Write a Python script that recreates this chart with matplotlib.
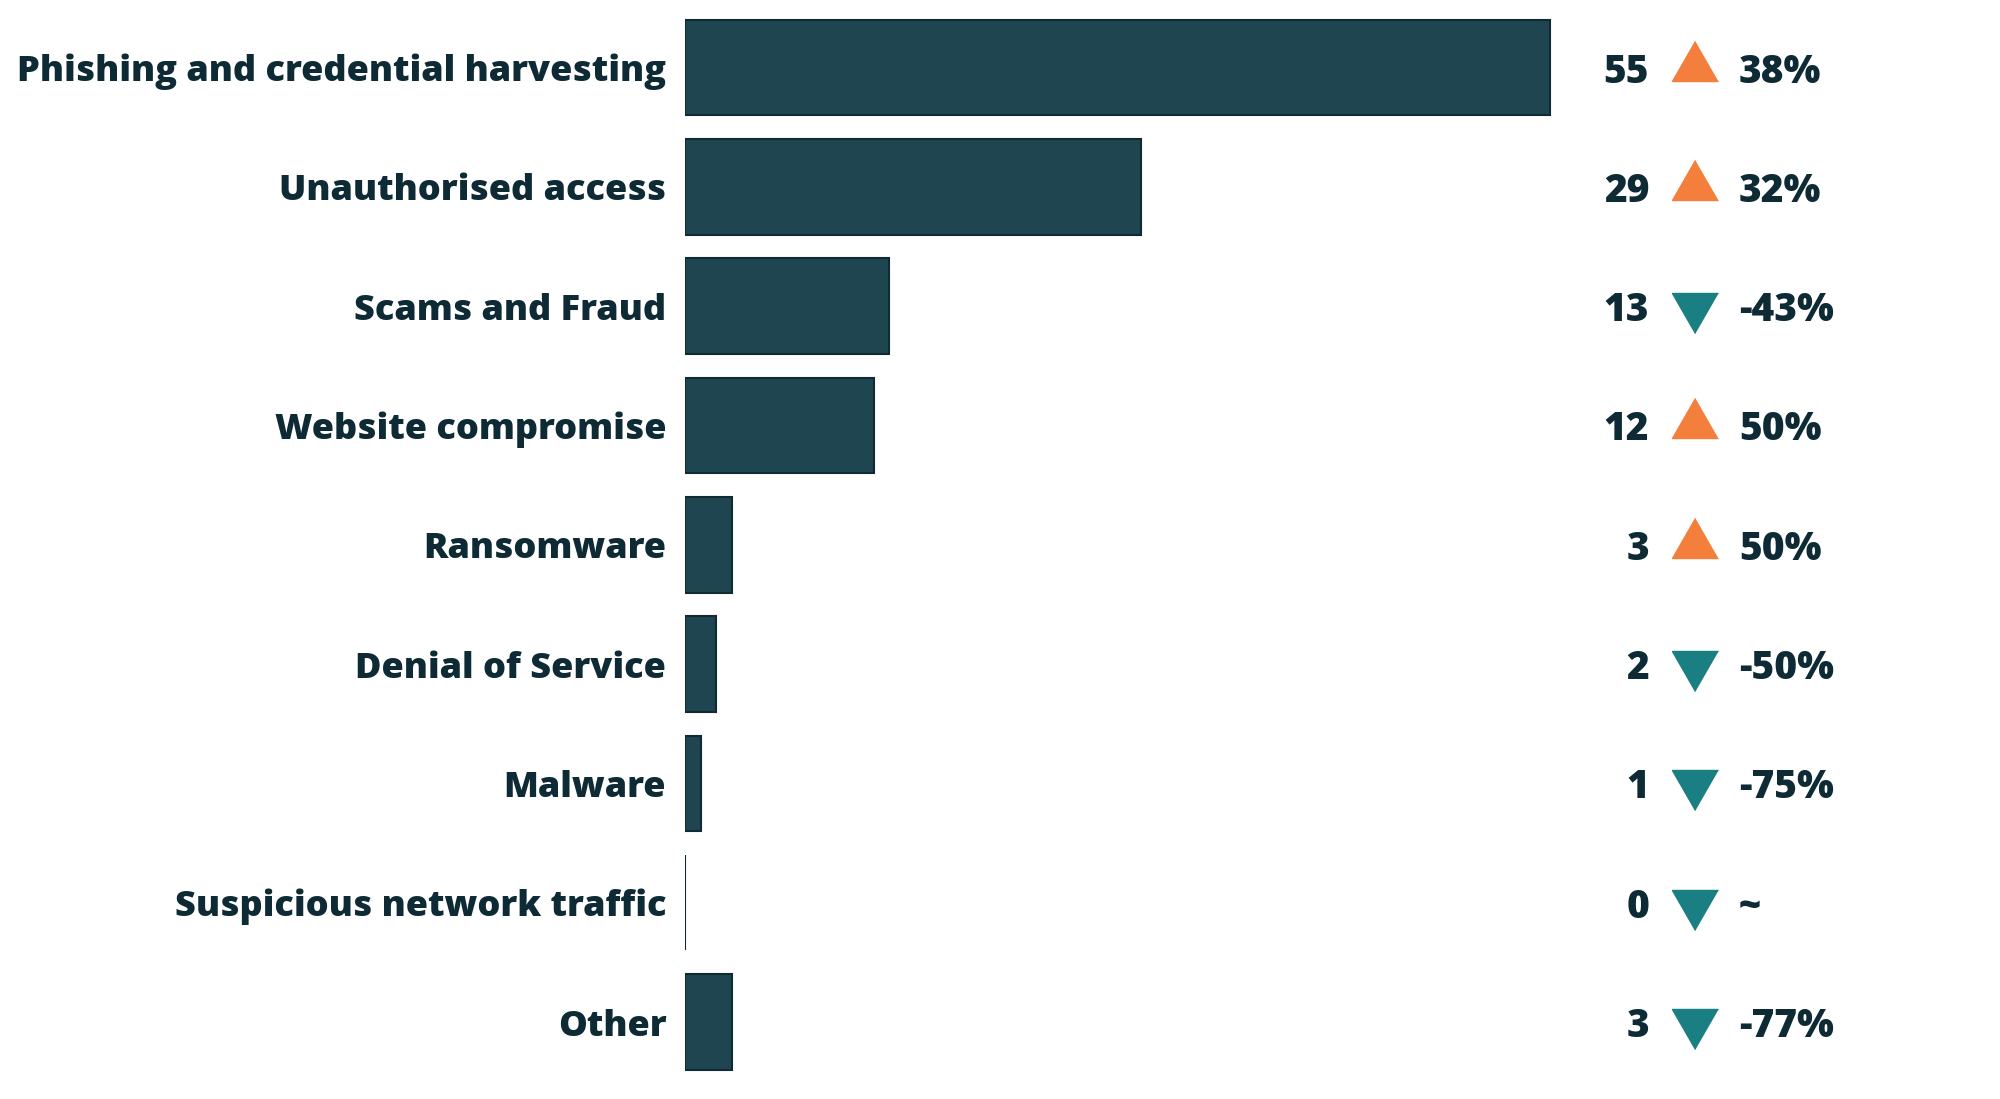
import matplotlib
matplotlib.use("Agg")
import matplotlib.pyplot as plt

plt.rcParams['font.family'] = ['Open Sans', 'DejaVu Sans']

categories = ["Phishing and credential harvesting", "Unauthorised access", "Scams and Fraud",
              "Website compromise", "Ransomware", "Denial of Service", "Malware",
              "Suspicious network traffic", "Other"]
counts = [55, 29, 13, 12, 3, 2, 1, 0, 3]
changes = ["38%", "32%", "-43%", "50%", "50%", "-50%", "-75%", "~", "-77%"]
direction = ["up", "up", "down", "up", "up", "down", "down", "down", "down"]

text_col = "#0d2a35"
bar_col = "#1f4650"
edge_col = "#0f2a33"
up_col = "#f47e3c"
down_col = "#1a7f82"

fig = plt.figure(figsize=(20, 10.99), dpi=100)
ax = fig.add_axes([0.3425, 0.01574, 0.6575, 0.97712])

y = list(range(len(categories)))
ax.barh(y, counts, height=0.8, color=bar_col, edgecolor=edge_col, linewidth=1.5)

ax.set_xlim(0, 83.6)
ax.set_ylim(len(categories) - 0.5, -0.5)
ax.set_yticks(y)
ax.set_yticklabels(categories, fontsize=26, fontweight=800, color=text_col)
ax.tick_params(axis='y', length=0, pad=13.5)
ax.set_xticks([])
for s in ax.spines.values():
    s.set_visible(False)

# triangles sit a bit off-centre, apex away from the row middle
up_marker = [(0, 27), (-23, -13), (23, -13)]
down_marker = [(0, -27), (-23, 13), (23, 13)]

for i, (c, ch, d) in enumerate(zip(counts, changes, direction)):
    ax.text(61.3, i, str(c), ha='right', va='center_baseline', fontsize=28,
            fontweight=800, color=text_col)
    if d == "up":
        ax.plot(64.2, i, marker=up_marker, markersize=38.9, color=up_col,
                linestyle='none')
    else:
        ax.plot(64.2, i, marker=down_marker, markersize=38.9, color=down_col,
                linestyle='none')
    ax.text(67.0, i, ch, ha='left', va='center_baseline', fontsize=28,
            fontweight=800, color=text_col)

fig.savefig("out.png", dpi=100)
